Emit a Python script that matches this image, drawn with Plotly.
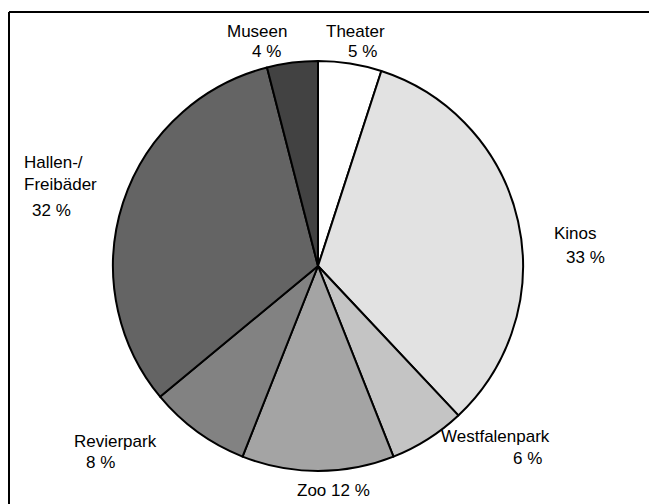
import plotly.graph_objects as go

# Besucheranteile der Freizeiteinrichtungen (in %)
categories = ["Theater", "Kinos", "Westfalenpark", "Zoo", "Revierpark", "Hallen-/<br>Freibäder", "Museen"]
shares = [5, 33, 6, 12, 8, 32, 4]
colors = ["#ffffff", "#e2e2e2", "#c4c4c4", "#a4a4a4", "#828282", "#646464", "#424242"]

W, H = 649, 504
cx, cy, r = 318, 266, 205  # pie centre and radius in pixels

fig = go.Figure(go.Pie(
    labels=categories,
    values=shares,
    sort=False,
    direction="clockwise",
    rotation=0,
    textinfo="none",
    hoverinfo="label+percent",
    marker=dict(colors=colors, line=dict(color="#000000", width=2)),
    domain=dict(x=[(cx - r) / W, (cx + r) / W],
                y=[(H - cy - r) / H, (H - cy + r) / H]),
    showlegend=False,
))

# label placement: (x, y, xanchor) for the name and for the value, in pixels
label_pos = {
    "Theater": ((355, 31, "center"), (362, 52, "center")),
    "Kinos": ((552, 233, "left"), (564, 257, "left")),
    "Westfalenpark": ((495, 436, "center"), (527, 458, "center")),
    "Zoo": ((333, 490, "center"), None),
    "Revierpark": ((116, 441, "center"), (100, 462, "center")),
    "Hallen-/<br>Freibäder": ((22, 173, "left"), (30, 210, "left")),
    "Museen": ((257, 31, "center"), (266, 52, "center")),
}

font = dict(family="Liberation Sans, Arial, sans-serif", size=17, color="#000000")


def put(text, x, y, anchor):
    fig.add_annotation(x=x / W, y=1 - y / H, xref="paper", yref="paper",
                       text=text, showarrow=False, font=font, align="left",
                       xanchor=anchor, yanchor="middle")


for name, val in zip(categories, shares):
    (nx, ny, na), vpos = label_pos[name]
    if vpos is None:
        put(f"{name} {val} %", nx, ny, na)
        continue
    put(name, nx, ny, na)
    vx, vy, va = vpos
    put(f"{val} %", vx, vy, va)

# frame lines along the top and left edge
frame = dict(color="#000000", width=2)
fig.add_shape(type="line", xref="paper", yref="paper",
              x0=9 / W, x1=1, y0=1 - 12 / H, y1=1 - 12 / H, line=frame)
fig.add_shape(type="line", xref="paper", yref="paper",
              x0=9 / W, x1=9 / W, y0=0, y1=1 - 12 / H, line=frame)

fig.update_layout(
    width=W, height=H,
    margin=dict(l=0, r=0, t=0, b=0),
    paper_bgcolor="#ffffff",
    plot_bgcolor="#ffffff",
)

fig.write_html("out.html")
